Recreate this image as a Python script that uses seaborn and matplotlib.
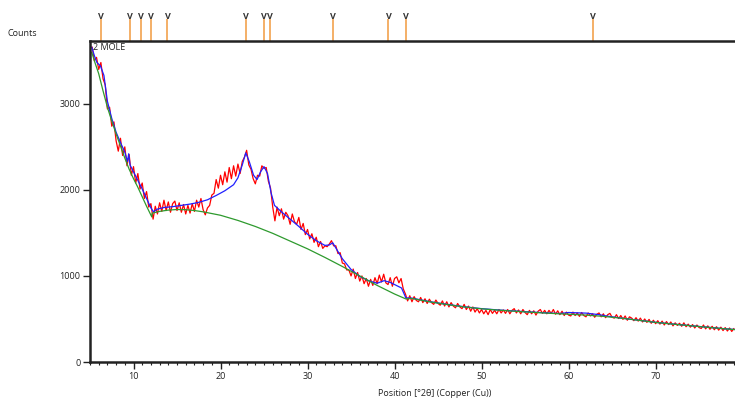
import matplotlib
matplotlib.use("Agg")
import matplotlib.pyplot as plt
import matplotlib.transforms as mtransforms
from matplotlib.ticker import MultipleLocator
import seaborn as sns
import numpy as np

# Observed scan: start position, step and counts
scan_start = 5.25
scan_step = 0.25
obs_counts = [
    3660, 3500, 3540, 3400, 3480, 3290, 3220, 2940, 2960, 2740,
    2790, 2570, 2450, 2600, 2400, 2500, 2280, 2410, 2170, 2270,
    2080, 2190, 2010, 2080, 1900, 1980, 1800, 1840, 1660, 1810,
    1720, 1850, 1750, 1880, 1760, 1860, 1740, 1840, 1870, 1760,
    1850, 1740, 1830, 1720, 1820, 1730, 1840, 1750, 1880, 1800,
    1900, 1770, 1710, 1790, 1820, 1940, 1960, 2120, 2020, 2170,
    2060, 2210, 2090, 2260, 2130, 2280, 2160, 2300, 2190, 2330,
    2380, 2460, 2290, 2240, 2130, 2070, 2170, 2160, 2280, 2250,
    2260, 2100, 2020, 1800, 1640, 1800, 1700, 1780, 1660, 1740,
    1700, 1600, 1720, 1630, 1600, 1680, 1540, 1610, 1480, 1540,
    1430, 1490, 1390, 1450, 1340, 1400, 1320, 1350, 1340, 1370,
    1410, 1350, 1350, 1260, 1270, 1150, 1140, 1070, 1070, 1000,
    1080, 970, 1040, 940, 1000, 910, 970, 880, 960, 890,
    980, 910, 1010, 930, 1020, 920, 900, 980, 880, 970,
    990, 920, 970, 850, 790, 710, 770, 700, 760, 715,
    700, 750, 690, 735, 680, 730, 690, 670, 720, 680,
    660, 710, 650, 700, 640, 690, 650, 630, 680, 640,
    620, 670, 610, 650, 590, 640, 580, 620, 570, 610,
    560, 600, 550, 610, 565, 600, 560, 610, 570, 605,
    565, 610, 560, 600, 620, 570, 605, 560, 610, 575,
    550, 600, 560, 595, 545, 590, 610, 565, 600, 560,
    600, 565, 610, 555, 595, 550, 590, 540, 580, 545,
    535, 580, 540, 570, 530, 575, 540, 525, 570, 535,
    560, 520, 555, 570, 525, 560, 515, 550, 565, 520,
    510, 550, 505, 540, 495, 535, 485, 525, 510, 480,
    515, 475, 510, 465, 500, 460, 495, 450, 485, 445,
    480, 440, 475, 430, 470, 435, 465, 420, 455, 425,
    450, 415, 455, 410, 440, 405, 435, 395, 430, 400,
    390, 430, 385, 420, 380, 415, 375, 410, 370, 405,
    365, 400, 360, 395, 355, 390,
]
obs_pos = scan_start + scan_step * np.arange(len(obs_counts))

# Calculated profile
calc_pos = [5.2, 5.5, 5.8, 6.2, 6.6, 7.0, 7.5, 8.0, 8.5, 9.0, 9.3, 9.45, 9.6,
            10.0, 10.5, 11.0, 11.5, 12.0, 12.3, 12.7, 13.5, 14.5, 15.5, 16.5,
            17.5, 18.5, 19.5, 20.5, 21.5, 22.0, 22.5, 22.9, 23.3, 23.8, 24.2,
            24.6, 25.0, 25.4, 25.8, 26.2, 27.0, 28.0, 29.0, 30.0, 31.0, 32.0,
            32.5, 32.9, 33.4, 34.0, 35.0, 36.0, 37.0, 38.0, 38.8, 39.5, 40.3,
            40.8, 41.3, 42.0, 44.0, 46.0, 48.0, 50.0, 52.0, 55.0, 58.0, 59.0,
            60.0, 62.0, 63.5, 64.5, 66.0, 68.0, 70.0, 72.0, 75.0, 78.0, 80.0]
calc_counts = [3660, 3560, 3480, 3440, 3330, 3030, 2830, 2670, 2550, 2440, 2330,
               2420, 2290, 2210, 2110, 2010, 1900, 1790, 1745, 1775, 1795, 1805,
               1820, 1835, 1855, 1885, 1935, 1990, 2060, 2140, 2290, 2430, 2330,
               2170, 2120, 2210, 2270, 2190, 1970, 1820, 1745, 1660, 1575, 1485,
               1410, 1355, 1360, 1385, 1300, 1200, 1075, 995, 945, 915, 945, 925,
               885, 860, 745, 742, 702, 670, 642, 620, 604, 585, 568, 563, 575,
               568, 550, 532, 511, 486, 461, 441, 413, 386, 371]

# Background
bg_pos = [5.2, 5.5, 6.0, 6.5, 7.0, 7.5, 8.0, 8.5, 9.0, 9.5, 10.0, 10.5, 11.0,
          11.5, 12.1, 12.15, 13.0, 14.0, 15.0, 16.0, 17.0, 18.0, 20.0, 22.0,
          24.0, 26.0, 28.0, 30.0, 32.0, 34.0, 36.0, 38.0, 40.0, 41.3, 42.0,
          44.0, 46.0, 48.0, 50.0, 52.0, 55.0, 58.0, 60.0, 62.0, 64.0, 66.0,
          68.0, 70.0, 72.0, 75.0, 78.0, 80.0]
bg_counts = [3600, 3500, 3350, 3150, 2960, 2800, 2650, 2510, 2370, 2240, 2130,
             2030, 1920, 1810, 1686, 1730, 1750, 1765, 1772, 1770, 1760, 1745,
             1705, 1645, 1575, 1495, 1405, 1315, 1215, 1110, 1000, 890, 790, 733,
             738, 700, 668, 640, 618, 602, 582, 565, 555, 545, 530, 510, 485,
             460, 440, 412, 385, 370]

# Reference peak positions (top markers)
ref_peaks = [6.3, 9.55, 10.9, 12.0, 13.9, 22.9, 25.0, 25.7, 32.9, 39.3, 41.3, 62.8]

sns.set_style("white")
plt.rcParams["font.family"] = ["Open Sans", "DejaVu Sans"]

fig = plt.figure(figsize=(7.35, 4.0), dpi=100)
ax = fig.add_axes([90 / 735, 0.095, 650 / 735, 0.8025])

sns.lineplot(x=obs_pos, y=obs_counts, ax=ax, color="#ff0000", linewidth=0.9,
             estimator=None, errorbar=None)
sns.lineplot(x=calc_pos, y=calc_counts, ax=ax, color="#2020ff", linewidth=0.9,
             estimator=None, errorbar=None)
sns.lineplot(x=bg_pos, y=bg_counts, ax=ax, color="#2e9a2e", linewidth=0.9,
             estimator=None, errorbar=None)

ax.set_xlim(5, 79.7)
ax.set_ylim(0, 3730)
ax.set_yticks([0, 1000, 2000, 3000])
ax.xaxis.set_major_locator(MultipleLocator(10))
ax.xaxis.set_minor_locator(MultipleLocator(1))
ax.tick_params(axis="both", which="major", direction="out", length=5, width=1,
               labelsize=6.5, colors="#222222", pad=2, bottom=True, left=True)
ax.tick_params(axis="x", which="minor", direction="out", length=2.5, width=0.8,
               colors="#222222", bottom=True)
for side in ["left", "bottom", "top"]:
    ax.spines[side].set_linewidth(1.8)
    ax.spines[side].set_color("#222222")
ax.spines["right"].set_visible(False)
ax.set_xlabel("")
ax.set_ylabel("")

# Peak markers above the plot
trans = mtransforms.blended_transform_factory(ax.transData, ax.transAxes)
ax.vlines(ref_peaks, 1.0, 1.07, transform=trans, color="#f2a24e",
          linewidth=1.2, clip_on=False)
for p in ref_peaks:
    ax.text(p, 1.062, "V", transform=trans, ha="center", va="bottom",
            fontsize=6.5, fontweight="bold", color="#333333", clip_on=False)

ax.text(0.004, 0.995, "2 MOLE", transform=ax.transAxes, ha="left", va="top",
        fontsize=6.5, color="#222222")
fig.text(8 / 735, 1 - 33 / 400, "Counts", ha="left", va="center",
         fontsize=6.5, color="#222222")
fig.text(435 / 735, 6 / 400, "Position [°2θ] (Copper (Cu))", ha="center",
         va="center", fontsize=6.5, color="#222222")

fig.savefig("out.png", dpi=100)
